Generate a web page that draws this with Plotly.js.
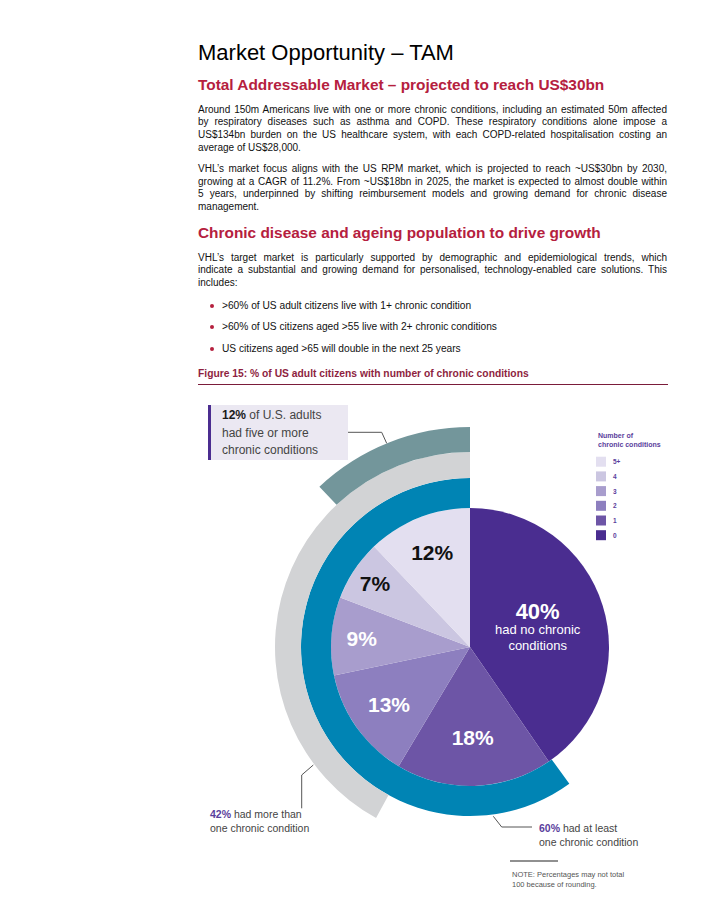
<!DOCTYPE html>
<html>
<head>
<meta charset="utf-8">
<script src="https://cdn.plot.ly/plotly-3.0.1.min.js"></script>
<style>
  html, body { margin:0; padding:0; background:#fff; }
  body { width:713px; height:897px; position:relative; overflow:hidden; font-family:"Liberation Sans", Arial, Helvetica, sans-serif; color:#111; }
  #chart { position:absolute; left:0; top:0; width:713px; height:897px; }
  .t { position:absolute; left:198px; width:469px; white-space:nowrap; }
  .title { font-size:22px; line-height:26px; color:#000; }
  .h { font-size:15.4px; line-height:20px; font-weight:bold; color:#b5203e; }
  .p { font-size:10px; line-height:12.8px; color:#111; white-space:normal; }
  .p div { text-align:justify; text-align-last:justify; white-space:nowrap; }
  .p div.last { text-align-last:left; }
  .b { font-size:10.2px; line-height:13px; left:222px; }
  .dot { position:absolute; left:210px; width:4px; height:4px; border-radius:50%; background:#b5203e; }
  .cap { font-size:10.3px; line-height:12px; font-weight:bold; color:#8e1f3f; }
  .rule { position:absolute; left:198px; width:470px; top:384px; height:1px; background:#7b1c3a; }
</style>
</head>
<body>
<div id="chart"></div>
<div class="t title" style="top:40px">Market Opportunity – TAM</div>
<div class="t h" style="top:75px">Total Addressable Market – projected to reach US$30bn</div>
<div class="t p" style="top:103.6px">
  <div>Around 150m Americans live with one or more chronic conditions, including an estimated 50m affected</div>
  <div>by respiratory diseases such as asthma and COPD. These respiratory conditions alone impose a</div>
  <div>US$134bn burden on the US healthcare system, with each COPD-related hospitalisation costing an</div>
  <div class="last">average of US$28,000.</div>
</div>
<div class="t p" style="top:162.9px">
  <div>VHL’s market focus aligns with the US RPM market, which is projected to reach ~US$30bn by 2030,</div>
  <div>growing at a CAGR of 11.2%. From ~US$18bn in 2025, the market is expected to almost double within</div>
  <div>5 years, underpinned by shifting reimbursement models and growing demand for chronic disease</div>
  <div class="last">management.</div>
</div>
<div class="t h" style="top:222.7px">Chronic disease and ageing population to drive growth</div>
<div class="t p" style="top:251.9px; line-height:12.5px">
  <div>VHL’s target market is particularly supported by demographic and epidemiological trends, which</div>
  <div>indicate a substantial and growing demand for personalised, technology-enabled care solutions. This</div>
  <div class="last">includes:</div>
</div>
<div class="dot" style="top:303.5px"></div>
<div class="t b" style="top:298.8px">&gt;60% of US adult citizens live with 1+ chronic condition</div>
<div class="dot" style="top:324.9px"></div>
<div class="t b" style="top:320.2px">&gt;60% of US citizens aged &gt;55 live with 2+ chronic conditions</div>
<div class="dot" style="top:346.5px"></div>
<div class="t b" style="top:341.8px">US citizens aged &gt;65 will double in the next 25 years</div>
<div class="t cap" style="top:368.3px">Figure 15: % of US adult citizens with number of chronic conditions</div>
<div class="rule"></div>

<script>
// ---------------- data ----------------
const categories = ['0', '1', '2', '3', '4', '5+'];
const shares = [40, 18, 13, 9, 7, 12];
const ringNames = ['had at least one chronic condition', 'had more than one chronic condition', 'had five or more chronic conditions'];
const ringShares = [60, 42, 12];
const legendTitle = 'Number of<br>chronic conditions';
const noteText = 'NOTE: Percentages may not total<br>100 because of rounding.';

// ---------------- styles ----------------
const W = 713, H = 897;
const sliceColors = ['#4a2d90', '#6d55a6', '#8d7fbf', '#a89dcd', '#cbc6e1', '#e3dff0'];
const sliceTextColors = ['#ffffff', '#ffffff', '#ffffff', '#ffffff', '#111111', '#111111'];
const sliceTextSizes = [12, 21, 21, 21, 21, 21];
const ringColors = ['#0084b4', '#d2d3d5', '#73969b'];
const purple = '#5a3e9c';
const FONT = '"Liberation Sans", Arial, Helvetica, sans-serif';

const cx = 470, cy = 647;
const radii = [139, 169, 195, 220];
const fx = x => x / W;
const fy = y => 1 - y / H;
const dom = r => ({ x: [fx(cx - r), fx(cx + r)], y: [fy(cy + r), fy(cy - r)] });

const traces = [];
// main pie
traces.push({
  type: 'pie',
  values: shares,
  labels: categories,
  sort: false,
  direction: 'clockwise',
  rotation: 0,
  domain: dom(radii[0]),
  marker: { colors: sliceColors, line: { width: 0 } },
  texttemplate: shares.map((v, i) => i === 0
    ? '<b><span style="font-size:22px">%{value}%</span></b><br><span style="font-size:13px">had no chronic</span><br><span style="font-size:13px">conditions</span>'
    : '<b>%{value}%</b>'),
  textposition: 'inside',
  insidetextorientation: 'horizontal',
  insidetextfont: { family: FONT, size: sliceTextSizes, color: sliceTextColors },
  hoverinfo: 'skip',
  showlegend: false
});
// rings: each ring share drawn anticlockwise from 12 o'clock
ringShares.forEach((v, i) => {
  const rin = radii[i], rout = radii[i + 1];
  traces.push({
    type: 'pie',
    values: [100 - v, v],
    labels: ['rest', ringNames[i]],
    sort: false,
    direction: 'clockwise',
    rotation: 0,
    hole: rin / rout,
    domain: dom(rout),
    marker: { colors: ['rgba(0,0,0,0)', ringColors[i]], line: { width: 0 } },
    textinfo: 'none',
    hoverinfo: 'skip',
    showlegend: false
  });
});

const shapes = [];
const annotations = [];
const pathOf = pts => 'M' + pts.map(p => fx(p[0]) + ',' + fy(p[1])).join(' L');

// callout box for 5+ ring
shapes.push({ type: 'rect', xref: 'paper', yref: 'paper', x0: fx(208), x1: fx(348), y0: fy(460), y1: fy(405), fillcolor: '#ebe8f2', line: { width: 0 }, layer: 'below' });
shapes.push({ type: 'rect', xref: 'paper', yref: 'paper', x0: fx(208), x1: fx(211), y0: fy(460), y1: fy(405), fillcolor: '#4b2d90', line: { width: 0 } });
annotations.push({ xref: 'paper', yref: 'paper', x: fx(220), y: fy(432.7), xanchor: 'left', yanchor: 'middle', align: 'left', showarrow: false,
  text: '<span style="font-size:12px"><b style="color:#1a1a1a">' + ringShares[2] + '%</b> of U.S. adults</span><br><span style="font-size:12px">had five or more</span><br><span style="font-size:12px">chronic conditions</span>',
  font: { family: FONT, size: 13.5, color: '#444' } });
// leader lines
const lineStyle = { color: '#555', width: 1 };
shapes.push({ type: 'path', xref: 'paper', yref: 'paper', path: pathOf([[348, 432.3], [381.7, 432.3], [386.7, 443.3]]), line: lineStyle });
shapes.push({ type: 'path', xref: 'paper', yref: 'paper', path: pathOf([[313.3, 765], [301.7, 775], [301.7, 808.3]]), line: lineStyle });
shapes.push({ type: 'path', xref: 'paper', yref: 'paper', path: pathOf([[493.3, 816.3], [501.7, 827], [532, 827]]), line: lineStyle });

annotations.push({ xref: 'paper', yref: 'paper', x: fx(208), y: fy(821.4), xanchor: 'left', yanchor: 'middle', align: 'left', showarrow: false,
  text: '<b style="color:' + purple + '">' + ringShares[1] + '%</b> had more than<br>one chronic condition',
  font: { family: FONT, size: 10.5, color: '#444' } });
annotations.push({ xref: 'paper', yref: 'paper', x: fx(536.7), y: fy(834.5), xanchor: 'left', yanchor: 'middle', align: 'left', showarrow: false,
  text: '<b style="color:' + purple + '">' + ringShares[0] + '%</b> had at least<br>one chronic condition',
  font: { family: FONT, size: 10.5, color: '#444' } });

// note
shapes.push({ type: 'line', xref: 'paper', yref: 'paper', x0: fx(510), x1: fx(558), y0: fy(861), y1: fy(861), line: { color: '#222', width: 1.2 } });
annotations.push({ xref: 'paper', yref: 'paper', x: fx(510), y: fy(879.6), xanchor: 'left', yanchor: 'middle', align: 'left', showarrow: false,
  text: noteText, font: { family: FONT, size: 7.5, color: '#555' } });

// custom legend (top to bottom: 5+ ... 0)
annotations.push({ xref: 'paper', yref: 'paper', x: fx(596), y: fy(439.5), xanchor: 'left', yanchor: 'middle', align: 'left', showarrow: false,
  text: '<b>' + legendTitle + '</b>', font: { family: FONT, size: 7, color: purple } });
const order = categories.map((c, i) => i).reverse();
order.forEach((idx, k) => {
  const yc = 461.7 + k * 14.7;
  shapes.push({ type: 'rect', xref: 'paper', yref: 'paper', x0: fx(596), x1: fx(606), y0: fy(yc + 5), y1: fy(yc - 5), fillcolor: sliceColors[idx], line: { width: 0 } });
  annotations.push({ xref: 'paper', yref: 'paper', x: fx(611), y: fy(yc), xanchor: 'left', yanchor: 'middle', showarrow: false,
    text: '<b>' + categories[idx] + '</b>', font: { family: FONT, size: 6.5, color: purple } });
});

const layout = {
  width: W, height: H,
  margin: { l: 0, r: 0, t: 0, b: 0 },
  paper_bgcolor: 'rgba(0,0,0,0)',
  plot_bgcolor: 'rgba(0,0,0,0)',
  showlegend: false,
  hovermode: false,
  shapes: shapes,
  annotations: annotations,
  font: { family: FONT }
};

Plotly.newPlot('chart', traces, layout, { staticPlot: true, displayModeBar: false });
</script>
</body>
</html>
